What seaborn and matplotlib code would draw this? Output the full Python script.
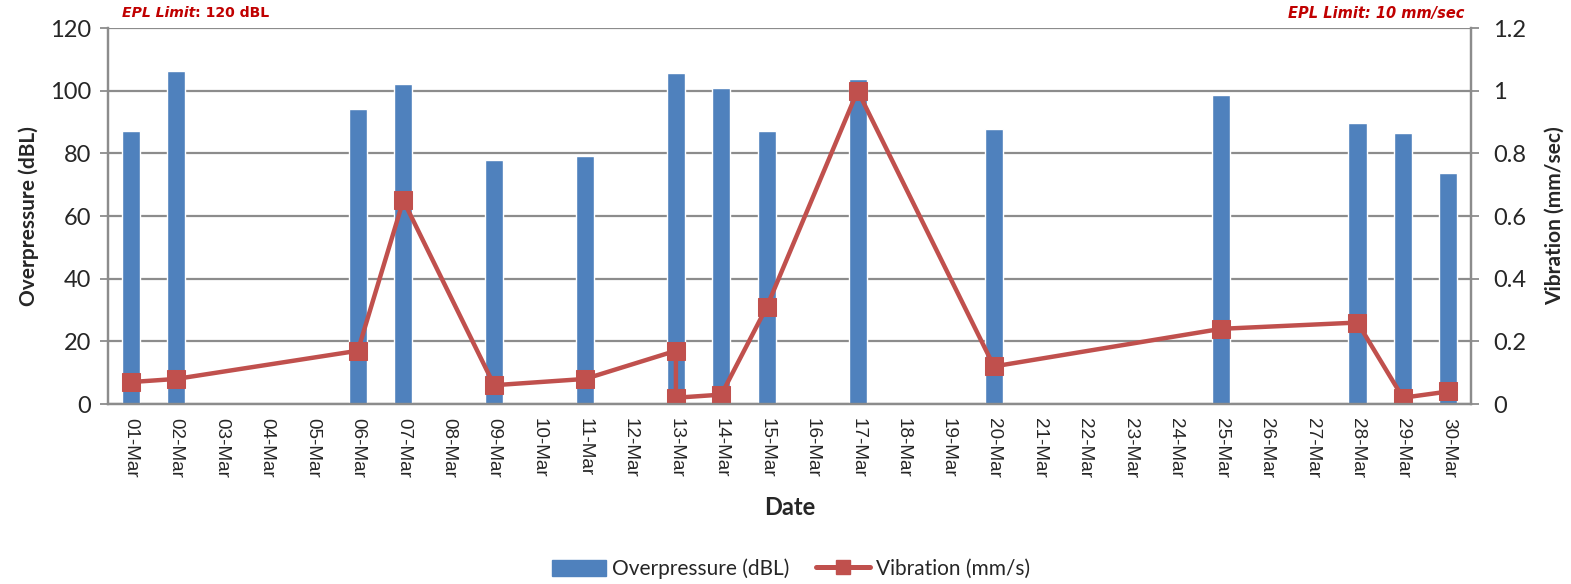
import matplotlib
matplotlib.use("Agg")
import matplotlib.pyplot as plt
import seaborn as sns
import pandas as pd
from matplotlib.lines import Line2D
from matplotlib.patches import Patch

# data
dates = [f"{d:02d}-Mar" for d in range(1, 31)]

bar_dates = ["01-Mar", "02-Mar", "06-Mar", "07-Mar", "09-Mar", "11-Mar", "13-Mar", "14-Mar",
             "15-Mar", "17-Mar", "20-Mar", "25-Mar", "28-Mar", "29-Mar", "30-Mar"]
overpressure = [87.2, 106.2, 94.2, 102.0, 77.8, 79.0, 105.5, 100.8,
                87.0, 103.8, 87.8, 98.6, 89.8, 86.6, 73.8]

vib_dates = ["01-Mar", "02-Mar", "06-Mar", "07-Mar", "09-Mar", "11-Mar", "13-Mar", "13-Mar",
             "14-Mar", "15-Mar", "17-Mar", "20-Mar", "25-Mar", "28-Mar", "29-Mar", "30-Mar"]
vibration = [0.07, 0.08, 0.17, 0.65, 0.06, 0.08, 0.17, 0.02,
             0.03, 0.31, 1.00, 0.12, 0.24, 0.26, 0.02, 0.04]

BLUE = "#4F81BD"
RED = "#C0504D"
GRID = "#8C8C8C"
NOTE = "#C00000"
FONT = ["Lato", "DejaVu Sans"]

sns.set_theme(style="white")
plt.rcParams["font.family"] = FONT

bars = pd.DataFrame({"Date": bar_dates, "Overpressure": overpressure})
vib = pd.DataFrame({"pos": [dates.index(d) for d in vib_dates], "Vibration": vibration})

fig = plt.figure(figsize=(15.71, 5.84), dpi=100)
ax = fig.add_axes([0.0687, 0.3082, 0.8677, 0.6438])

sns.barplot(data=bars, x="Date", y="Overpressure", order=dates, color=BLUE,
            width=0.40, saturation=1, ax=ax, zorder=2)
ax.set_ylim(0, 120)
ax.set_yticks(range(0, 121, 20))
ax.set_xlim(-0.5, len(dates) - 0.5)
ax.yaxis.grid(True, color=GRID, linewidth=1.6, zorder=0)
ax.set_axisbelow(True)

ax2 = ax.twinx()
sns.lineplot(data=vib, x="pos", y="Vibration", sort=False, estimator=None, color=RED,
             linewidth=3.2, marker="s", markersize=13, markeredgecolor=RED, ax=ax2)
ax2.set_ylim(0, 1.2)
ax2.set_yticks([0, 0.2, 0.4, 0.6, 0.8, 1.0, 1.2])
ax2.set_yticklabels(["0", "0.2", "0.4", "0.6", "0.8", "1", "1.2"])
ax2.set_xlim(-0.5, len(dates) - 0.5)

# x ticks: labels centred, marks on category boundaries
ax.set_xticks(range(len(dates)))
ax.set_xticklabels(dates, rotation=-90, fontsize=13.6, family=["Liberation Sans"])
ax.set_xticks([i - 0.5 for i in range(len(dates) + 1)], minor=True)
ax.tick_params(axis="x", which="major", length=0, pad=10)
ax.tick_params(axis="x", which="minor", length=6, width=1.3, color=GRID, direction="out")
ax.tick_params(axis="y", length=6, width=1.3, color=GRID, labelsize=17, direction="out", pad=6)
ax2.tick_params(axis="y", length=6, width=1.3, color=GRID, labelsize=17, direction="out", pad=10)

for a in (ax, ax2):
    for s in a.spines.values():
        s.set_visible(False)
    for s in ("left", "right", "bottom"):
        a.spines[s].set_visible(True)
        a.spines[s].set_color(GRID)
        a.spines[s].set_linewidth(1.6)

ax.set_xlabel("Date", fontsize=17, fontweight="bold", labelpad=13)
ax.set_ylabel("Overpressure (dBL)", fontsize=15, fontweight="bold", labelpad=8)
ax2.set_ylabel("Vibration (mm/sec)", fontsize=15, fontweight="bold", labelpad=13)

# EPL limit notes
t1 = fig.text(0.0777, 0.977, "EPL Limit", color=NOTE, fontsize=10.1, fontweight="bold",
              style="italic", va="center", family=["DejaVu Sans"])
ax.annotate(": 120 dBL", xy=(1, 0.5), xycoords=t1, va="center", ha="left", color=NOTE,
            fontsize=10.1, fontweight="bold", family=["DejaVu Sans"], annotation_clip=False)
fig.text(0.932, 0.977, "EPL Limit: 10 mm/sec", color=NOTE, fontsize=10.5, fontweight="bold",
         style="italic", va="center", ha="right", family=["DejaVu Sans"])

handles = [Patch(facecolor=BLUE, edgecolor=BLUE),
           Line2D([0], [0], color=RED, linewidth=3.6, marker="s", markersize=10)]
fig.legend(handles, ["Overpressure (dBL)", "Vibration (mm/s)"], loc="center",
           bbox_to_anchor=(0.5035, 0.026), ncol=2, frameon=False, fontsize=15,
           handlelength=2.6, handleheight=0.85, columnspacing=1.3, handletextpad=0.25)

fig.savefig("out.png", dpi=100)
